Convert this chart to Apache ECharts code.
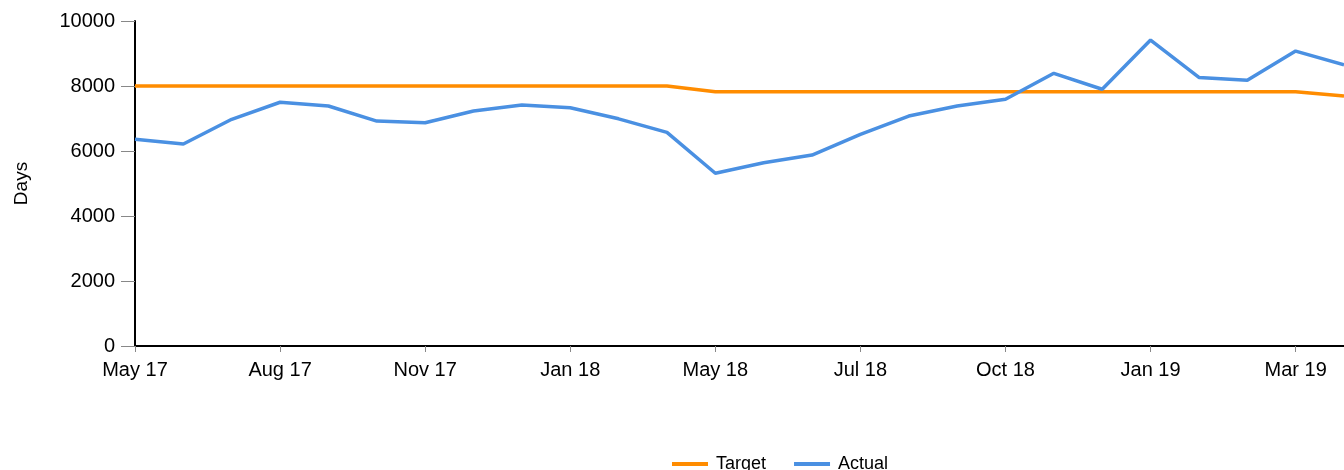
<!DOCTYPE html>
<html>
<head>
<meta charset="utf-8">
<script src="https://cdn.jsdelivr.net/npm/echarts@6/dist/echarts.min.js"></script>
<style>
  html, body { margin: 0; padding: 0; background: #fff; }
  #chart { width: 1344px; height: 470px; }
</style>
</head>
<body>
<div id="chart"></div>
<script>
// data
var categories = ['May 17', 'Jun 17', 'Jul 17', 'Aug 17', 'Sep 17', 'Oct 17', 'Nov 17', 'Dec 17', 'Dec 17',
    'Jan 18', 'Feb 18', 'Apr 18', 'May 18', 'Jun 18', 'Jun 18', 'Jul 18', 'Aug 18', 'Sep 18', 'Oct 18',
    'Nov 18', 'Dec 18', 'Jan 19', 'Feb 19', 'Feb 19', 'Mar 19', 'Apr 19'];
var targetValues = [8000, 8000, 8000, 8000, 8000, 8000, 8000, 8000, 8000, 8000, 8000, 8000,
    7820, 7820, 7820, 7820, 7820, 7820, 7820, 7820, 7820, 7820, 7820, 7820, 7820, 7690];
var actualValues = [6360, 6215, 6975, 7500, 7385, 6920, 6870, 7230, 7415, 7330, 6990, 6575,
    5315, 5640, 5875, 6510, 7075, 7385, 7590, 8390, 7900, 9415, 8265, 8175, 9075, 8650];
var yTicks = { min: 0, max: 10000, interval: 2000 };

var font = 'Liberation Sans, Arial, sans-serif';
var myChart = echarts.init(document.getElementById('chart'));
var option = {
    animation: false,
    color: ['#ff8c00', '#4a90e2'],
    textStyle: { fontFamily: font },
    grid: {
        left: 135,
        right: -3,
        top: 21,
        bottom: 124
    },
    legend: {
        data: ['Target', 'Actual'],
        left: 667,
        top: 450,
        itemWidth: 36,
        itemHeight: 4,
        itemGap: 28,
        icon: 'rect',
        textStyle: { fontSize: 18, color: '#000', fontFamily: font, padding: [0, 0, 0, 3] }
    },
    xAxis: {
        type: 'category',
        boundaryGap: false,
        data: categories,
        axisLine: { lineStyle: { color: '#000', width: 2 } },
        axisTick: { interval: 2, length: 6, lineStyle: { color: '#888' } },
        axisLabel: { interval: 2, margin: 14, fontSize: 20, color: '#000', fontFamily: font },
        splitLine: { show: false }
    },
    yAxis: {
        type: 'value',
        min: yTicks.min,
        max: yTicks.max,
        interval: yTicks.interval,
        name: 'Days',
        nameLocation: 'middle',
        nameGap: 104,
        nameTextStyle: { fontSize: 19, color: '#000', fontFamily: font },
        axisLine: { show: true, lineStyle: { color: '#000', width: 2 } },
        axisTick: { show: true, length: 14, lineStyle: { color: '#888' } },
        axisLabel: {
            margin: 20, fontSize: 20, color: '#000', fontFamily: font,
            formatter: function (v) { return String(v); }
        },
        splitLine: { show: false }
    },
    series: [
        {
            name: 'Target',
            type: 'line',
            data: targetValues,
            showSymbol: false,
            symbol: 'none',
            lineStyle: { width: 3.5 }
        },
        {
            name: 'Actual',
            type: 'line',
            data: actualValues,
            showSymbol: false,
            symbol: 'none',
            lineStyle: { width: 3.5 }
        }
    ]
};
myChart.setOption(option);
</script>
</body>
</html>
